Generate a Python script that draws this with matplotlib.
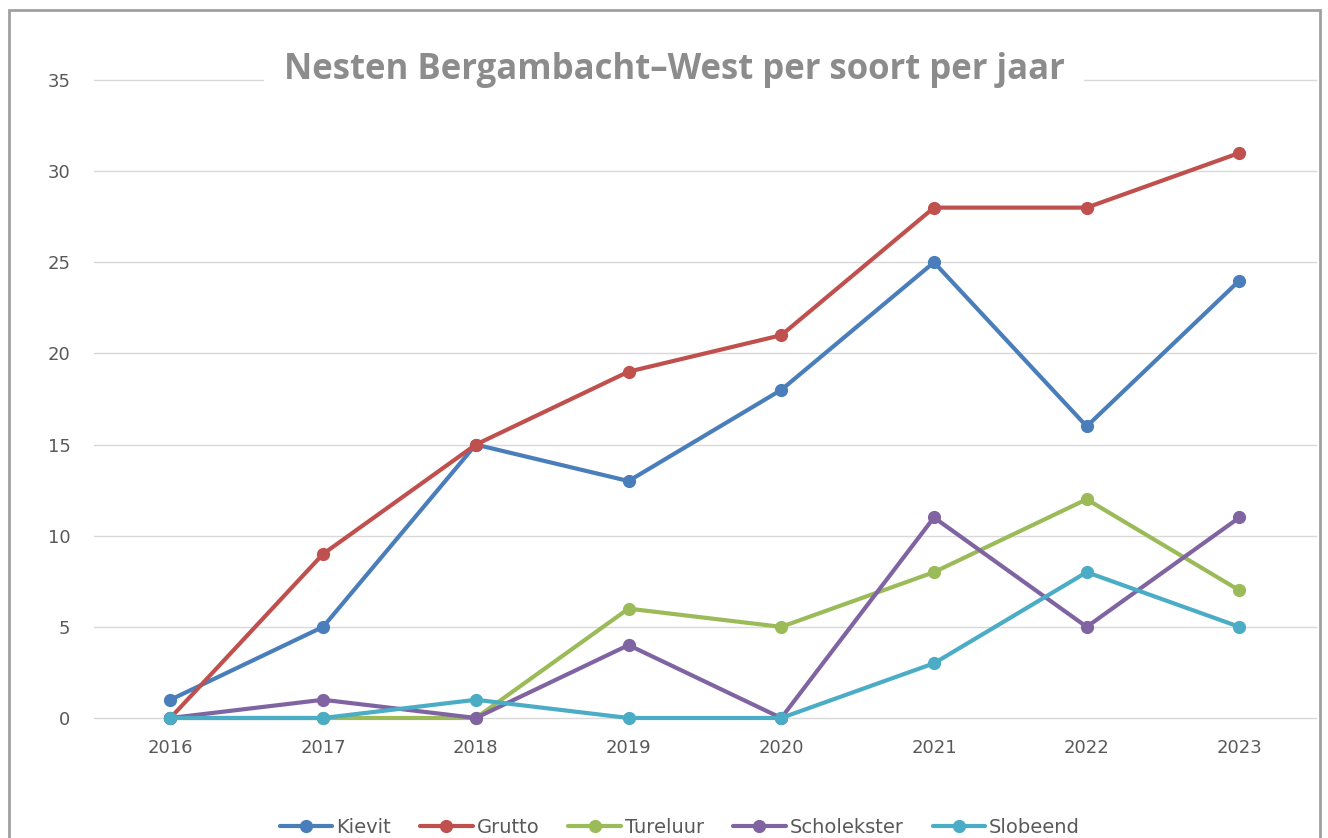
import matplotlib.pyplot as plt
from matplotlib.patches import Rectangle

years = ["2016", "2017", "2018", "2019", "2020", "2021", "2022", "2023"]
kievit = [1, 5, 15, 13, 18, 25, 16, 24]
grutto = [0, 9, 15, 19, 21, 28, 28, 31]
tureluur = [0, 0, 0, 6, 5, 8, 12, 7]
scholekster = [0, 1, 0, 4, 0, 11, 5, 11]
slobeend = [0, 0, 1, 0, 0, 3, 8, 5]

series = [
    ("Kievit", kievit, "#4a7ebb"),
    ("Grutto", grutto, "#c0504d"),
    ("Tureluur", tureluur, "#9bbb59"),
    ("Scholekster", scholekster, "#8064a2"),
    ("Slobeend", slobeend, "#4bacc6"),
]

fig = plt.figure(figsize=(13.28, 8.38), dpi=100)
ax = fig.add_axes([0.0708, 0.1432, 0.920, 0.7613])

x = list(range(len(years)))
for name, vals, col in series:
    ax.plot(x, vals, color=col, lw=3.0, marker="o", ms=8.5, label=name,
            solid_capstyle="round", solid_joinstyle="round", clip_on=False)

ax.set_xlim(-0.5, len(years) - 0.5)
ax.set_ylim(0, 35)
ax.set_yticks(range(0, 36, 5))
ax.set_xticks(x)
ax.set_xticklabels(years)
ax.yaxis.grid(True, color="#d9d9d9", lw=1)
for gl in ax.get_ygridlines():
    gl.set_clip_on(False)
ax.set_axisbelow(True)
for s in ax.spines.values():
    s.set_visible(False)
ax.tick_params(axis="both", length=0, labelsize=13, labelcolor="#595959")
ax.tick_params(axis="y", pad=17)
ax.tick_params(axis="x", pad=15)

# title sits on the top gridline with a white box
fig.text(0.5075, 0.9057, "Nesten Bergambacht\u2013West per soort per jaar",
         ha="center", va="baseline", fontsize=25, fontweight="bold",
         color="#8c8c8c", family="Open Sans",
         bbox=dict(facecolor="white", edgecolor="none", pad=14))

leg = fig.legend(loc="center", bbox_to_anchor=(0.512, 0.013), ncol=5,
                 frameon=False, fontsize=14, handlelength=2.7,
                 columnspacing=1.5, handletextpad=0.2)
for t in leg.get_texts():
    t.set_color("#595959")

# outer frame
fig.patches.append(Rectangle((0.0068, -0.05), 0.987, 1.038, transform=fig.transFigure,
                             fill=False, edgecolor="#a0a0a0", lw=2))

fig.savefig("out.png", dpi=100)
